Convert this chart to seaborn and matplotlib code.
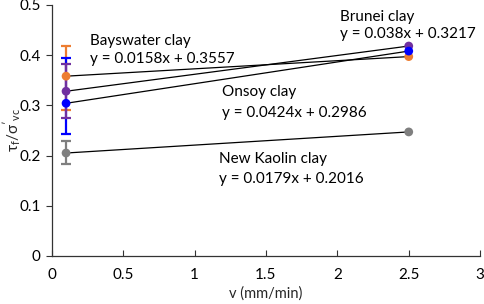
import matplotlib
matplotlib.use("Agg")
import matplotlib.pyplot as plt
import seaborn as sns
import pandas as pd

# Data
series = ["Bayswater clay", "Brunei clay", "Onsoy clay", "New Kaolin clay"]
equations = ["y = 0.0158x + 0.3557", "y = 0.038x + 0.3217", "y = 0.0424x + 0.2986", "y = 0.0179x + 0.2016"]
v_values = [0.1, 2.5]
bayswater = [0.358, 0.397]
brunei = [0.328, 0.418]
onsoy = [0.304, 0.408]
kaolin = [0.205, 0.247]
err_low = [0.068, 0.053, 0.062, 0.022]   # at v=0.1
err_high = [0.061, 0.054, 0.090, 0.024]
colors = ["#ED7D31", "#7030A0", "#0000FF", "#7F7F7F"]
label_pos = [(0.27, 0.428, 0.392), (2.02, 0.476, 0.442), (1.19, 0.326, 0.284), (1.17, 0.194, 0.154)]

rows = []
for name, vals in zip(series, [bayswater, brunei, onsoy, kaolin]):
    for v, t in zip(v_values, vals):
        rows.append({"v": v, "tau": t, "clay": name})
df = pd.DataFrame(rows)

sns.set_theme(style="ticks")
plt.rcParams["font.family"] = ["Lato", "DejaVu Sans"]
plt.rcParams["mathtext.fontset"] = "custom"
plt.rcParams["mathtext.rm"] = "Lato"
plt.rcParams["mathtext.it"] = "Lato"
plt.rcParams["mathtext.default"] = "regular"

fig = plt.figure(figsize=(4.84, 3.04), dpi=100)
ax = fig.add_axes([0.107, 0.158, 0.885, 0.826])

# trend lines (black)
sns.lineplot(data=df, x="v", y="tau", units="clay", estimator=None, color="black",
             linewidth=0.9, ax=ax, legend=False, zorder=2)

# error bars at first point
first = df[df["v"] == v_values[0]].set_index("clay").loc[series]
order = [0, 2, 1, 3]
for i in order:
    ax.errorbar(first["v"].iloc[i], first["tau"].iloc[i],
                yerr=[[err_low[i]], [err_high[i]]], fmt="none",
                ecolor=colors[i], elinewidth=1.6, capsize=3.5, capthick=1.6, zorder=3)

sns.scatterplot(data=df, x="v", y="tau", hue="clay", palette=dict(zip(series, colors)),
                s=40, edgecolor="none", legend=False, ax=ax, zorder=4)

for name, eq, (x, y1, y2) in zip(series, equations, label_pos):
    ax.text(x, y1, name, fontsize=11, va="center", ha="left", color="black")
    ax.text(x, y2, eq, fontsize=11, va="center", ha="left", color="black")

ax.set_xlim(0, 3)
ax.set_ylim(0, 0.5)
ax.set_xticks([0, 0.5, 1, 1.5, 2, 2.5, 3])
ax.set_xticklabels(["0", "0.5", "1", "1.5", "2", "2.5", "3"])
ax.set_yticks([0, 0.1, 0.2, 0.3, 0.4, 0.5])
ax.set_yticklabels(["0", "0.1", "0.2", "0.3", "0.4", "0.5"])
ax.tick_params(axis="x", direction="in", length=4, width=0.8, labelsize=11, pad=9, colors="#333333", labelcolor="black")
ax.tick_params(axis="y", direction="out", length=4, width=0.8, labelsize=11, pad=4, colors="#333333", labelcolor="black")
for s in ["left", "bottom"]:
    ax.spines[s].set_color("#333333")
    ax.spines[s].set_linewidth(0.9)
sns.despine(ax=ax)
ax.set_xlabel("v (mm/min)", fontsize=10.5, labelpad=3)
ax.set_ylabel(r"$\tau_f/\sigma'_{vc}$", fontsize=11)
ax.yaxis.set_label_coords(-0.067, 0.5)

fig.savefig("out.png", dpi=100)
